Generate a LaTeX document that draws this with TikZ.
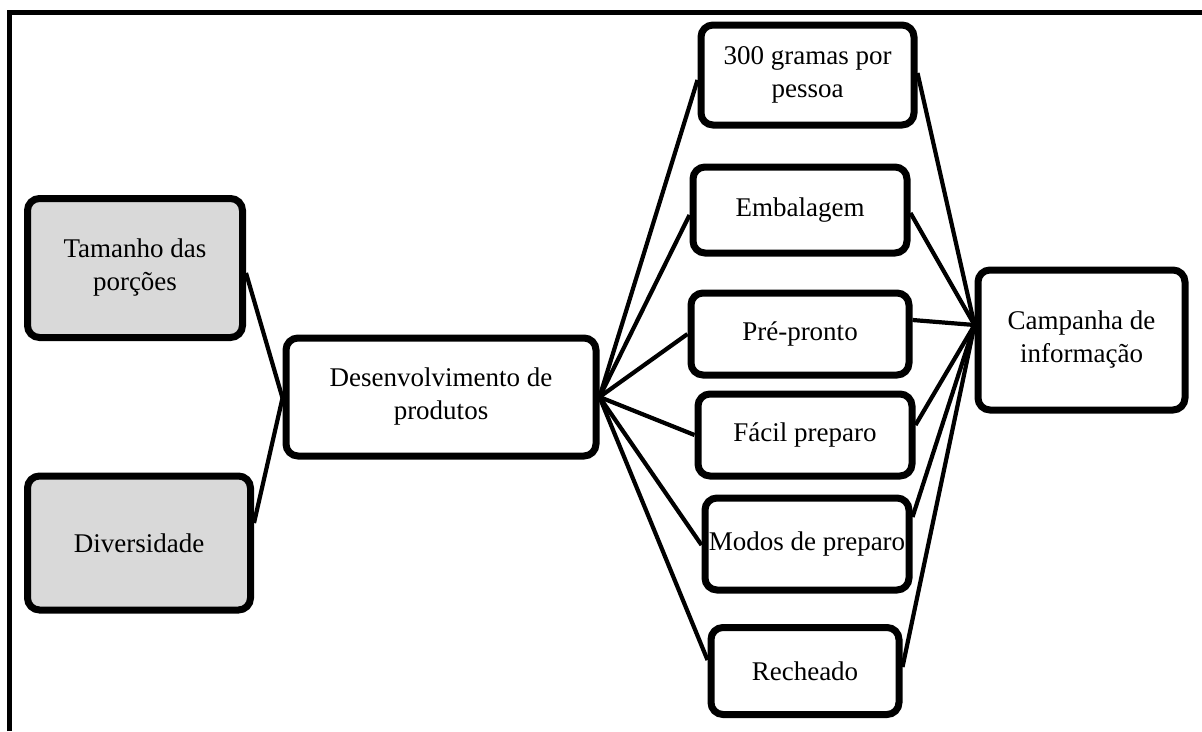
\documentclass[tikz,border=0pt]{standalone}
\usepackage{fontspec}
\setmainfont{Liberation Serif}
\usetikzlibrary{calc}
\definecolor{boxgray}{HTML}{D9D9D9}
\tikzset{
  box/.style={draw=black, line width=7pt, rounded corners=12pt, fill=white, align=center,
    font=\fontsize{27}{33}\selectfont, inner sep=0pt},
  graybox/.style={box, fill=boxgray},
  conn/.style={line width=4.2pt},
  frame/.style={line width=5pt}
}
\begin{document}
\begin{tikzpicture}[x=1pt,y=-1pt]
\useasboundingbox (0,0) rectangle (1202,731);
% frame (top and left only)
\coordinate (fl) at (9,731);
\coordinate (fc) at (9,12);
\coordinate (fr) at (1202,12);
\draw[frame] (fl) -- (fc) -- (fr);
% nodes
\node[graybox, minimum width=215pt, minimum height=139pt] (tam) at (135,268) {Tamanho das\\porções};
\node[graybox, minimum width=223pt, minimum height=134pt] (div) at (139,543) {Diversidade};
\node[box, minimum width=310pt, minimum height=118pt] (des) at (441,397) {Desenvolvimento de\\produtos};
\node[box, minimum width=213pt, minimum height=100pt] (g300) at (807.5,75) {300 gramas por\\pessoa};
\node[box, minimum width=214pt, minimum height=86pt] (emb) at (800,210) {Embalagem};
\node[box, minimum width=218pt, minimum height=82pt] (pre) at (800,334) {Pré-pronto};
\node[box, minimum width=214pt, minimum height=82pt] (fac) at (805,435) {Fácil preparo};
\node[box, minimum width=204pt, minimum height=92pt] (mod) at (807,544) {Modos de preparo};
\node[box, minimum width=188pt, minimum height=87pt] (rec) at (805,671) {Recheado};
\node[box, minimum width=207pt, minimum height=140pt] (cam) at (1081.5,340) {Campanha de\\informação};
% connectors left
\coordinate (desin) at ([yshift=-1pt]des.west);
\draw[conn] ([yshift=-5pt]tam.east) -- (desin);
\draw[conn] ([yshift=20pt]div.east) -- (desin);
% fan right
\foreach \n/\s in {g300/-5, emb/-5, pre/0, fac/0, mod/-1, rec/11}{
  \draw[conn] (des.east) -- ([yshift=\s pt]\n.west);
}
% to campaign
\coordinate (camin) at ([yshift=15pt]cam.west);
\foreach \n/\s in {g300/2, emb/-3, pre/14, fac/10, mod/27, rec/4}{
  \draw[conn] ([yshift=\s pt]\n.east) -- (camin);
}
\end{tikzpicture}
\end{document}
